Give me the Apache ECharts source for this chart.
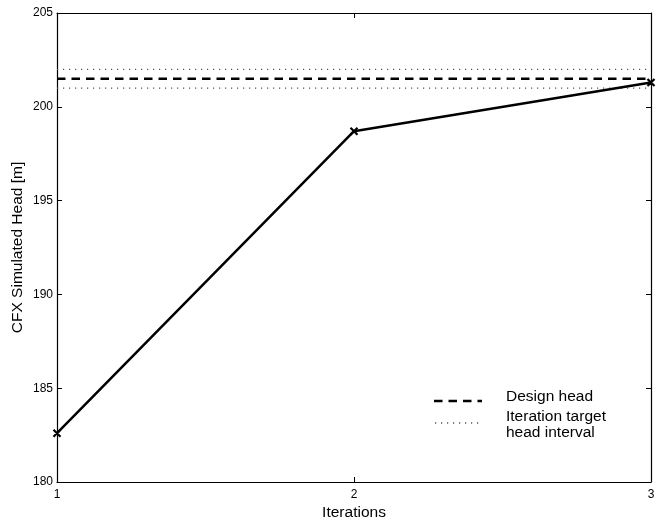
<!DOCTYPE html>
<html>
<head>
<meta charset="utf-8">
<script src="https://cdn.jsdelivr.net/npm/echarts@6/dist/echarts.min.js"></script>
<style>
  html, body { margin: 0; padding: 0; background: #fff; }
  #chart { width: 659px; height: 520px; }
</style>
</head>
<body>
<div id="chart"></div>
<script>
// Simulated head per design iteration
const iterations = [1, 2, 3];
const simulatedHead = [182.6, 198.7, 201.3];
// Design head and the accepted band around it [m]
const designHead = 201.5;
const targetInterval = [201.0, 202.0];
// Axis ranges / ticks
const yTicks = [180, 185, 190, 195, 200, 205];
const xTicks = [1, 2, 3];

const FONT = 'Liberation Sans, Arial, sans-serif';
const xMin = xTicks[0], xMax = xTicks[xTicks.length - 1];

const headPoints = iterations.map((it, i) => [it, simulatedHead[i]]);
const hLine = v => [[xMin, v], [xMax, v]];

// X-shaped marker
const crossPath = 'path://M0,0 L10,10 M10,0 L0,10 M0,0 L10,10 Z';

const DASH = [8.5, 6];
const DOT = [1.2, 4.8];

const frameAxis = {
  axisLine: { show: true, lineStyle: { color: '#000', width: 1.2 } },
  axisTick: { show: true, inside: true, length: 5, lineStyle: { color: '#000', width: 1 } },
  splitLine: { show: false }
};

const chart = echarts.init(document.getElementById('chart'), null, { renderer: 'canvas' });
chart.setOption({
  animation: false,
  backgroundColor: '#fff',
  grid: { left: 57, right: 8, top: 13, bottom: 38, containLabel: false, outerBoundsMode: 'none' },
  xAxis: [
    Object.assign({
      type: 'value', min: xMin, max: xMax, interval: 1, position: 'bottom',
      name: 'Iterations', nameLocation: 'middle', nameGap: 23, nameMoveOverlap: false,
      nameTextStyle: { color: '#000', fontSize: 15.5, fontFamily: FONT },
      axisLabel: { color: '#000', fontSize: 12, fontFamily: FONT, margin: 7 }
    }, frameAxis),
    Object.assign({
      type: 'value', min: xMin, max: xMax, interval: 1, position: 'top',
      axisLabel: { show: false }
    }, frameAxis)
  ],
  yAxis: [
    Object.assign({
      type: 'value', min: yTicks[0], max: yTicks[yTicks.length - 1], interval: 5, position: 'left',
      name: 'CFX Simulated Head [m]', nameLocation: 'middle', nameGap: 31, nameRotate: 90,
      nameMoveOverlap: false,
      nameTextStyle: { color: '#000', fontSize: 15.5, fontFamily: FONT },
      axisLabel: { color: '#000', fontSize: 12, fontFamily: FONT, margin: 4 }
    }, frameAxis),
    Object.assign({
      type: 'value', min: yTicks[0], max: yTicks[yTicks.length - 1], interval: 5, position: 'right',
      axisLabel: { show: false }
    }, frameAxis)
  ],
  series: [
    {
      name: 'Iteration target head interval (upper)',
      type: 'line', data: hLine(targetInterval[1]), symbol: 'none',
      lineStyle: { color: '#555', width: 1.3, type: DOT }, z: 2
    },
    {
      name: 'Iteration target head interval (lower)',
      type: 'line', data: hLine(targetInterval[0]), symbol: 'none',
      lineStyle: { color: '#555', width: 1.3, type: DOT }, z: 2
    },
    {
      name: 'Design head',
      type: 'line', data: hLine(designHead), symbol: 'none',
      lineStyle: { color: '#000', width: 2.5, type: DASH }, z: 3
    },
    {
      name: 'CFX simulated head',
      type: 'line', data: headPoints,
      symbol: crossPath, symbolSize: 7,
      itemStyle: { color: '#000', borderColor: '#000', borderWidth: 2.2 },
      lineStyle: { color: '#000', width: 2.5 }, z: 4
    }
  ],
  graphic: [
    { type: 'line', shape: { x1: 434, y1: 401, x2: 482, y2: 401 },
      style: { stroke: '#000', lineWidth: 2.5, lineDash: DASH } },
    { type: 'line', shape: { x1: 435, y1: 423, x2: 482, y2: 423 },
      style: { stroke: '#555', lineWidth: 1.3, lineDash: DOT } },
    { type: 'text', left: 506, top: 389,
      style: { text: 'Design head', fill: '#000', font: '15.5px ' + FONT } },
    { type: 'text', left: 506, top: 409,
      style: { text: 'Iteration target\nhead interval', fill: '#000', font: '15.5px ' + FONT, lineHeight: 16 } }
  ]
});
</script>
</body>
</html>
